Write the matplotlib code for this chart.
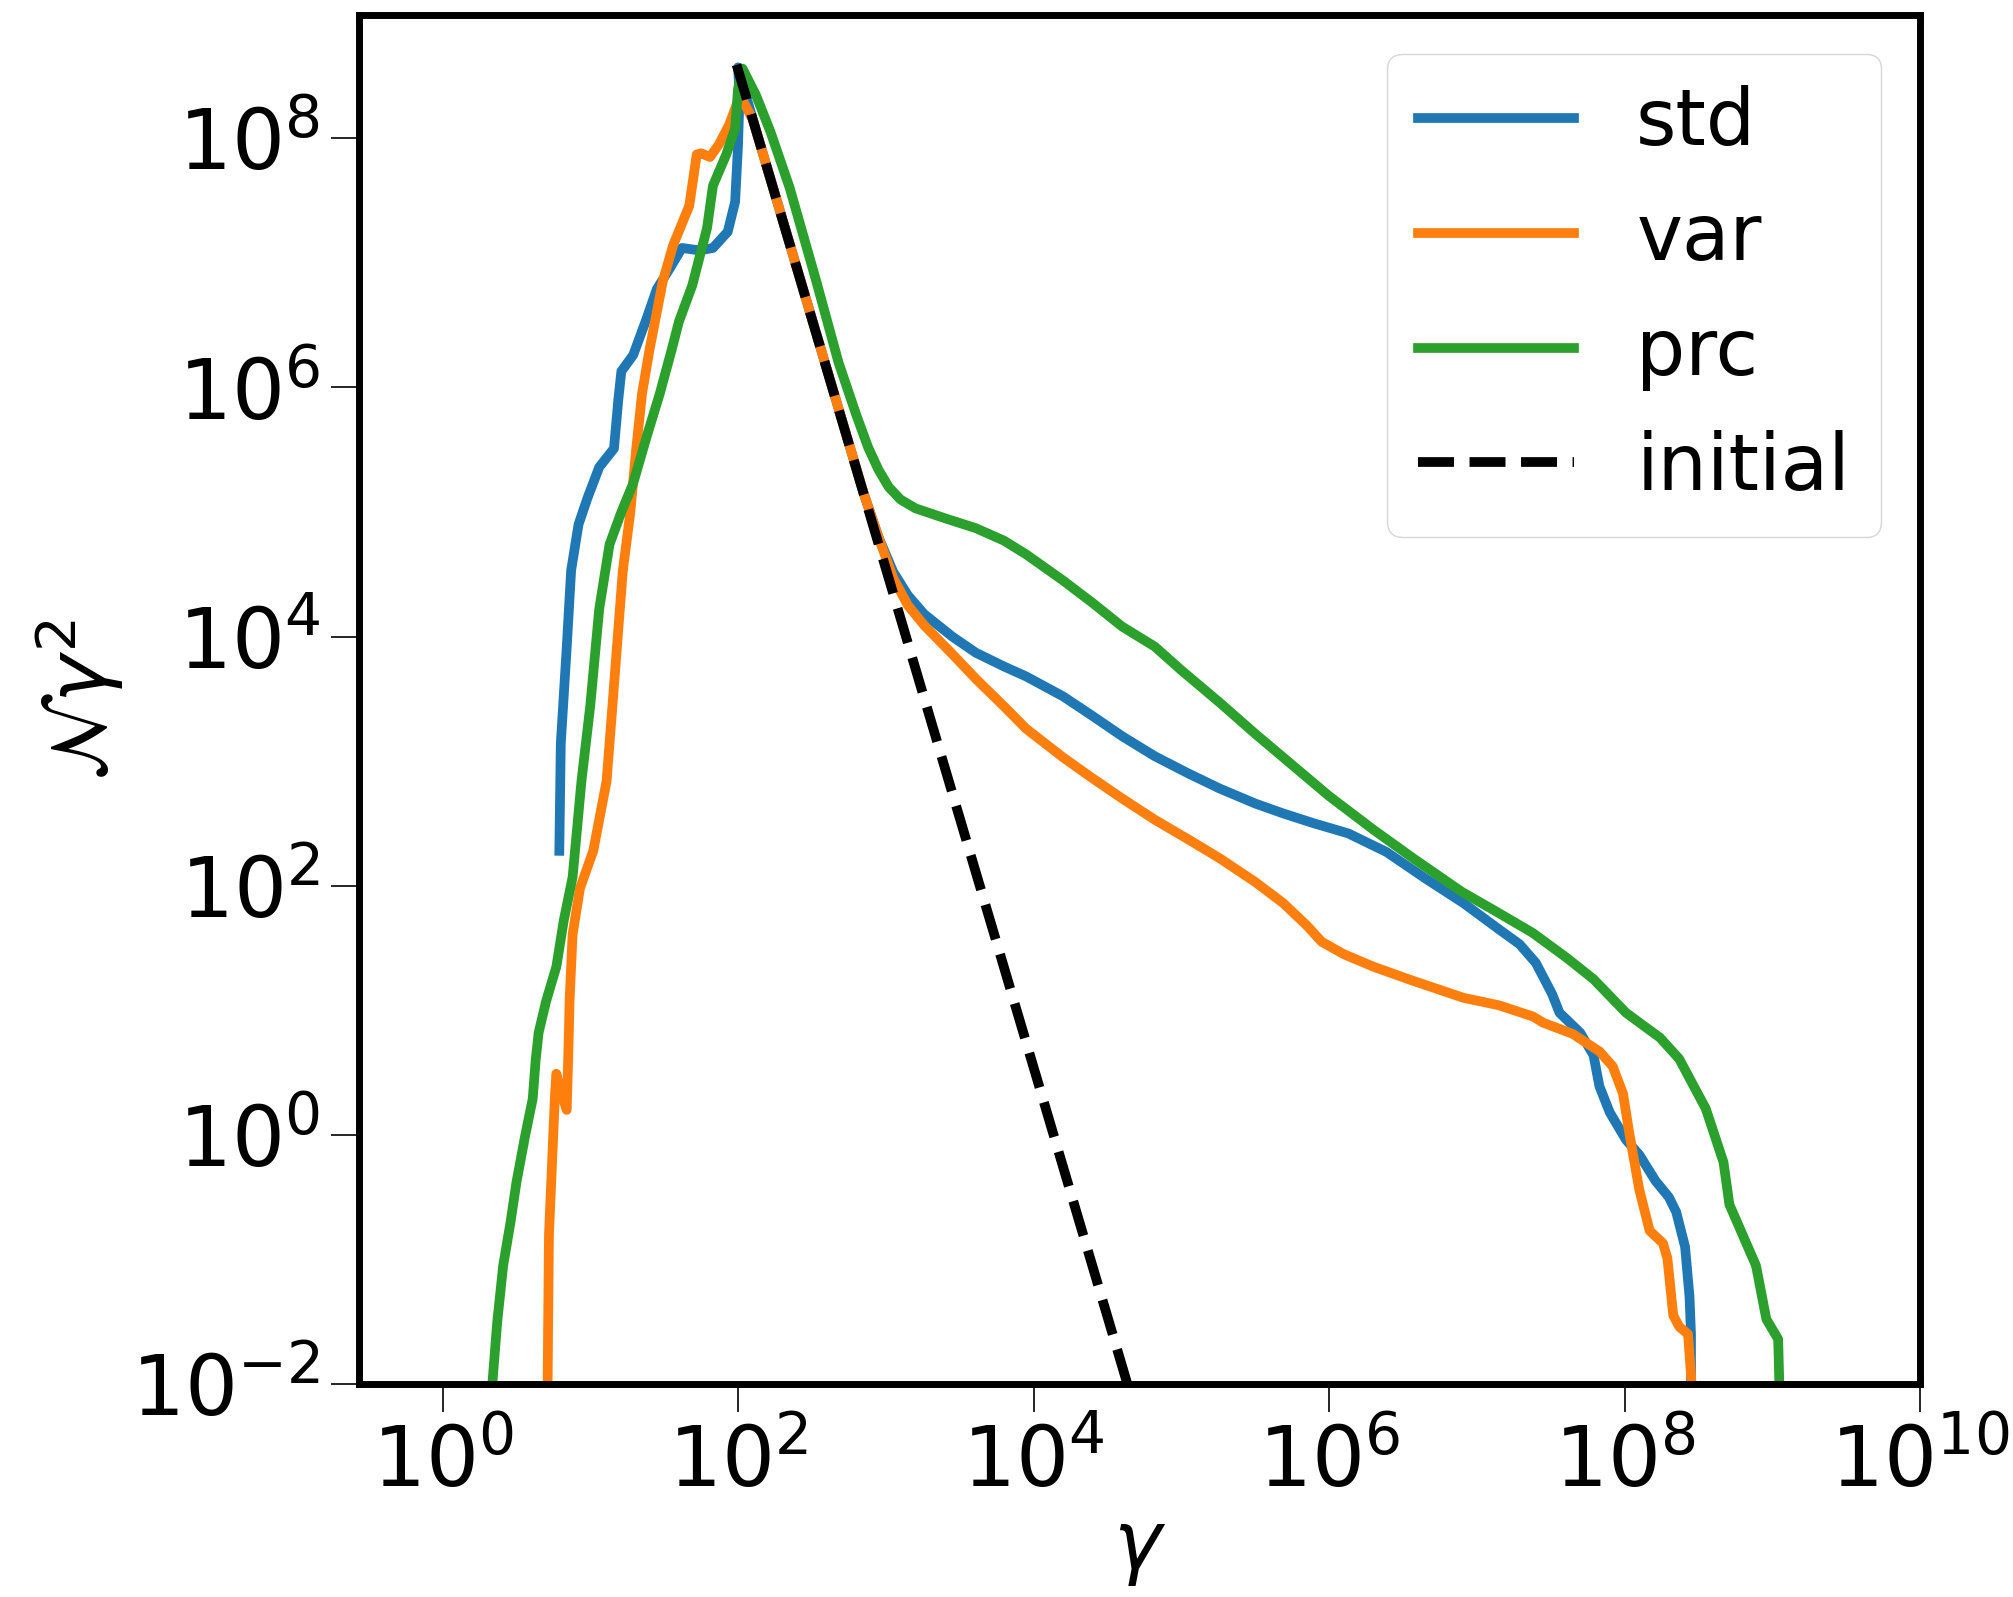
import matplotlib
matplotlib.use("Agg")
import matplotlib.pyplot as plt
import numpy as np

# values, as log10(gamma) and log10(N gamma^2)
std_lg = [0.79, 0.80, 0.84, 0.87, 0.92, 0.98, 1.06, 1.16, 1.19, 1.21, 1.29, 1.38, 1.45,
          1.54, 1.62, 1.74, 1.83, 1.93, 1.98, 2.00, 2.01, 2.00, 2.10, 2.30, 2.50, 2.70,
          2.85, 2.95, 3.05, 3.15, 3.26, 3.45, 3.61, 3.80, 3.95, 4.20, 4.39, 4.60, 4.82,
          5.05, 5.26, 5.50, 5.69, 5.90, 6.13, 6.39, 6.65, 6.91, 7.15, 7.29, 7.40, 7.51,
          7.56, 7.70, 7.79, 7.83, 7.90, 8.01, 8.10, 8.21, 8.30, 8.35, 8.41, 8.44, 8.45, 8.45]
std_lN = [2.28, 3.14, 3.91, 4.53, 4.90, 5.11, 5.36, 5.51, 5.91, 6.13, 6.26, 6.55, 6.79,
          6.96, 7.12, 7.10, 7.12, 7.25, 7.49, 7.95, 8.35, 8.57, 8.15, 7.35, 6.55, 5.75,
          5.15, 4.80, 4.52, 4.33, 4.18, 4.00, 3.87, 3.76, 3.68, 3.52, 3.37, 3.20, 3.04,
          2.90, 2.78, 2.66, 2.58, 2.50, 2.42, 2.27, 2.06, 1.86, 1.65, 1.53, 1.38, 1.13,
          0.98, 0.82, 0.64, 0.39, 0.18, -0.04, -0.16, -0.37, -0.50, -0.62, -0.90, -1.30, -1.60, -2.10]

var_lg = [0.71, 0.72, 0.74, 0.76, 0.77, 0.80, 0.84, 0.85, 0.86, 0.88, 0.93, 1.02, 1.11,
          1.15, 1.19, 1.22, 1.27, 1.31, 1.35, 1.40, 1.49, 1.56, 1.67, 1.72, 1.75, 1.81,
          1.87, 1.94, 1.99, 2.02, 2.10, 2.30, 2.50, 2.70, 2.85, 2.95, 3.05, 3.15, 3.26,
          3.45, 3.61, 3.80, 3.95, 4.20, 4.39, 4.60, 4.82, 5.05, 5.26, 5.50, 5.69, 5.85,
          5.95, 6.10, 6.30, 6.56, 6.91, 7.15, 7.38, 7.45, 7.65, 7.83, 7.92, 7.99, 8.03,
          8.10, 8.17, 8.26, 8.29, 8.33, 8.37, 8.43, 8.46]
var_lN = [-2.10, -0.80, -0.25, 0.30, 0.49, 0.35, 0.20, 0.60, 1.09, 1.61, 1.98, 2.28, 2.84,
          3.45, 4.07, 4.53, 4.99, 5.50, 5.95, 6.30, 6.85, 7.14, 7.46, 7.87, 7.88, 7.85,
          7.95, 8.11, 8.27, 8.33, 8.15, 7.35, 6.55, 5.75, 5.15, 4.80, 4.47, 4.25, 4.09,
          3.86, 3.66, 3.44, 3.26, 3.03, 2.87, 2.70, 2.53, 2.37, 2.22, 2.03, 1.86, 1.68,
          1.55, 1.45, 1.35, 1.24, 1.10, 1.04, 0.95, 0.90, 0.81, 0.67, 0.55, 0.33, 0.03,
          -0.44, -0.77, -0.87, -0.99, -1.45, -1.54, -1.60, -2.10]

prc_lg = [0.33, 0.37, 0.41, 0.46, 0.50, 0.56, 0.61, 0.63, 0.65, 0.70, 0.77, 0.82, 0.88,
          0.94, 1.00, 1.06, 1.13, 1.21, 1.29, 1.38, 1.47, 1.55, 1.60, 1.69, 1.79, 1.83,
          1.92, 1.98, 2.00, 2.03, 2.12, 2.22, 2.35, 2.53, 2.68, 2.80, 2.88, 2.95, 3.02,
          3.10, 3.20, 3.40, 3.61, 3.80, 3.95, 4.20, 4.40, 4.60, 4.82, 5.00, 5.26, 5.50,
          5.70, 6.00, 6.30, 6.57, 6.90, 7.15, 7.38, 7.61, 7.79, 8.01, 8.24, 8.37, 8.55,
          8.67, 8.71, 8.89, 8.96, 9.04, 9.05]
prc_lN = [-2.10, -1.50, -1.05, -0.70, -0.38, 0.00, 0.29, 0.60, 0.82, 1.07, 1.35, 1.72, 2.07,
          2.84, 3.45, 4.22, 4.74, 5.00, 5.23, 5.60, 5.95, 6.30, 6.53, 6.82, 7.28, 7.62,
          7.87, 8.08, 8.40, 8.56, 8.35, 8.05, 7.60, 6.85, 6.20, 5.78, 5.52, 5.34, 5.20,
          5.10, 5.03, 4.95, 4.87, 4.77, 4.66, 4.45, 4.27, 4.08, 3.92, 3.73, 3.47, 3.22,
          3.02, 2.72, 2.45, 2.22, 1.95, 1.78, 1.62, 1.42, 1.25, 0.98, 0.78, 0.61, 0.21,
          -0.22, -0.56, -1.05, -1.48, -1.64, -2.10]

initial_lg = [1.99, 4.66]
initial_lN = [8.59, -2.10]

series = [("std", std_lg, std_lN, "#1f77b4", "-"),
          ("var", var_lg, var_lN, "#ff7f0e", "-"),
          ("prc", prc_lg, prc_lN, "#2ca02c", "-"),
          ("initial", initial_lg, initial_lN, "k", "--")]

fig = plt.figure(figsize=(20.13, 15.97), dpi=100)
ax = fig.add_subplot(111)
fig.subplots_adjust(left=0.1784, right=0.9538, bottom=0.1334, top=0.9906)

for name, lg, lN, col, ls in series:
    ax.plot(10**np.array(lg), 10**np.array(lN), ls, color=col, lw=7, label=name)

ax.set_xscale("log")
ax.set_yscale("log")
ax.set_xlim(10**-0.565, 1e10)
ax.set_ylim(1e-2, 10**8.99)
ax.set_xticks([10.0**k for k in range(0, 11, 2)])
ax.set_yticks([10.0**k for k in range(-2, 9, 2)])
ax.minorticks_off()

ax.tick_params(which="major", length=20, width=1.2, labelsize=60, pad=8)
for s in ax.spines.values():
    s.set_linewidth(5)

ax.set_xlabel(r"$\gamma$", fontsize=58)
ax.set_ylabel(r"$\mathcal{N}\gamma^2$", fontsize=58)
ax.legend(loc="upper right", fontsize=56)

plt.savefig("out.png", dpi=100)
